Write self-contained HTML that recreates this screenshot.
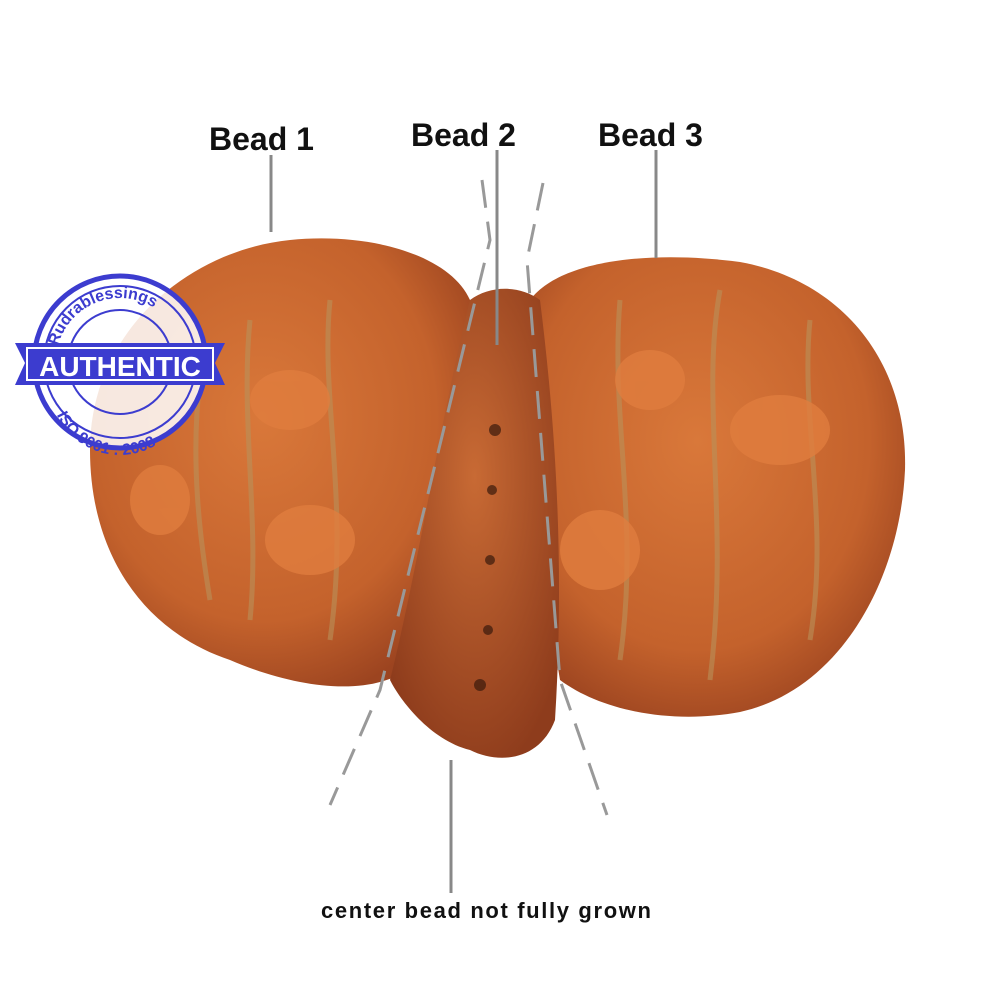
<!DOCTYPE html>
<html><head><meta charset="utf-8"><style>
body{margin:0;background:#fff}
svg{display:block}
text{font-family:"Liberation Sans",sans-serif}
</style></head><body>
<svg width="1000" height="1000" viewBox="0 0 1000 1000" xmlns="http://www.w3.org/2000/svg">
<defs>
<radialGradient id="g1" cx="45%" cy="40%" r="65%">
<stop offset="0" stop-color="#d9783a"/><stop offset="0.7" stop-color="#c4622c"/><stop offset="1" stop-color="#9c4420"/>
</radialGradient>
<radialGradient id="g2" cx="50%" cy="40%" r="65%">
<stop offset="0" stop-color="#c86a34"/><stop offset="1" stop-color="#8e3c1c"/>
</radialGradient>
</defs>
<path d="M90,450 C90,330 190,250 290,240 C370,232 450,255 470,300 C480,400 460,560 420,660 C380,700 300,690 230,660 C140,630 90,550 90,450Z" fill="url(#g1)"/>
<path d="M530,300 C560,260 650,250 740,262 C840,280 908,360 905,470 C900,580 840,690 740,712 C670,725 600,710 560,680 C540,560 520,420 530,300Z" fill="url(#g1)"/>
<path d="M470,300 C490,285 520,285 540,300 C555,420 565,560 555,720 C540,760 500,765 470,750 C430,740 400,700 390,680 C420,560 440,420 470,300Z" fill="url(#g2)"/>
<g fill="none" stroke="#b9915a" stroke-width="5" opacity="0.6">
<path d="M250,320 C240,420 260,520 250,620"/><path d="M330,300 C320,400 350,500 330,640"/><path d="M200,380 C190,460 200,540 210,600"/>
<path d="M620,300 C610,420 640,520 620,660"/><path d="M720,290 C700,400 730,520 710,680"/><path d="M810,320 C800,420 830,520 810,640"/>
</g>
<g fill="#e07d3e" opacity="0.8">
<ellipse cx="290" cy="400" rx="40" ry="30"/><ellipse cx="310" cy="540" rx="45" ry="35"/><ellipse cx="600" cy="550" rx="40" ry="40"/>
<ellipse cx="780" cy="430" rx="50" ry="35"/><ellipse cx="650" cy="380" rx="35" ry="30"/><ellipse cx="160" cy="500" rx="30" ry="35"/>
</g>
<g fill="#3a1a0c" opacity="0.7">
<circle cx="495" cy="430" r="6"/><circle cx="492" cy="490" r="5"/><circle cx="490" cy="560" r="5"/><circle cx="488" cy="630" r="5"/><circle cx="480" cy="685" r="6"/>
</g>
<g stroke="#999" stroke-width="3" fill="none" stroke-dasharray="28,14">
<path d="M482,180 L490,240 L380,690 L330,805"/>
<path d="M543,183 L527,260 L560,680 L607,815"/>
</g>
<g stroke="#888" stroke-width="3">
<line x1="271" y1="155" x2="271" y2="232"/>
<line x1="497" y1="150" x2="497" y2="345"/>
<line x1="656" y1="150" x2="656" y2="258"/>
<line x1="451" y1="760" x2="451" y2="893"/>
</g>
<g font-weight="bold" fill="#111">
<text x="209" y="150" font-size="32">Bead 1</text>
<text x="411" y="146" font-size="32">Bead 2</text>
<text x="598" y="146" font-size="32">Bead 3</text>
<text x="321" y="918" font-size="22" textLength="330">center bead not fully grown</text>
</g>
<g>
<circle cx="120" cy="362" r="86" fill="#fff" opacity="0.85"/>
<circle cx="120" cy="362" r="86" fill="none" stroke="#3c3ccf" stroke-width="5"/>
<circle cx="120" cy="362" r="76" fill="none" stroke="#3c3ccf" stroke-width="2"/>
<circle cx="120" cy="362" r="52" fill="none" stroke="#3c3ccf" stroke-width="2"/>
<path d="M56,362 A64,64 0 0 1 184,362" id="arcT" fill="none"/>
<text font-size="16" font-weight="bold" fill="#3c3ccf" font-family="Liberation Serif"><textPath href="#arcT" startOffset="8%">Rudrablessings</textPath></text>
<path d="M50,385 A70,70 0 0 0 190,385" id="arcB" fill="none"/>
<text font-size="16" font-weight="bold" fill="#3c3ccf" font-family="Liberation Serif"><textPath href="#arcB" startOffset="14%">ISO 9001 : 2008</textPath></text>
<polygon points="15,343 225,343 215,363 225,385 15,385 25,363" fill="#3c3ccf"/>
<rect x="27" y="348" width="186" height="32" fill="none" stroke="#fff" stroke-width="2"/>
<text x="120" y="376" font-size="28" font-weight="bold" fill="#fff" text-anchor="middle">AUTHENTIC</text>
</g>
</svg>
</body></html>
